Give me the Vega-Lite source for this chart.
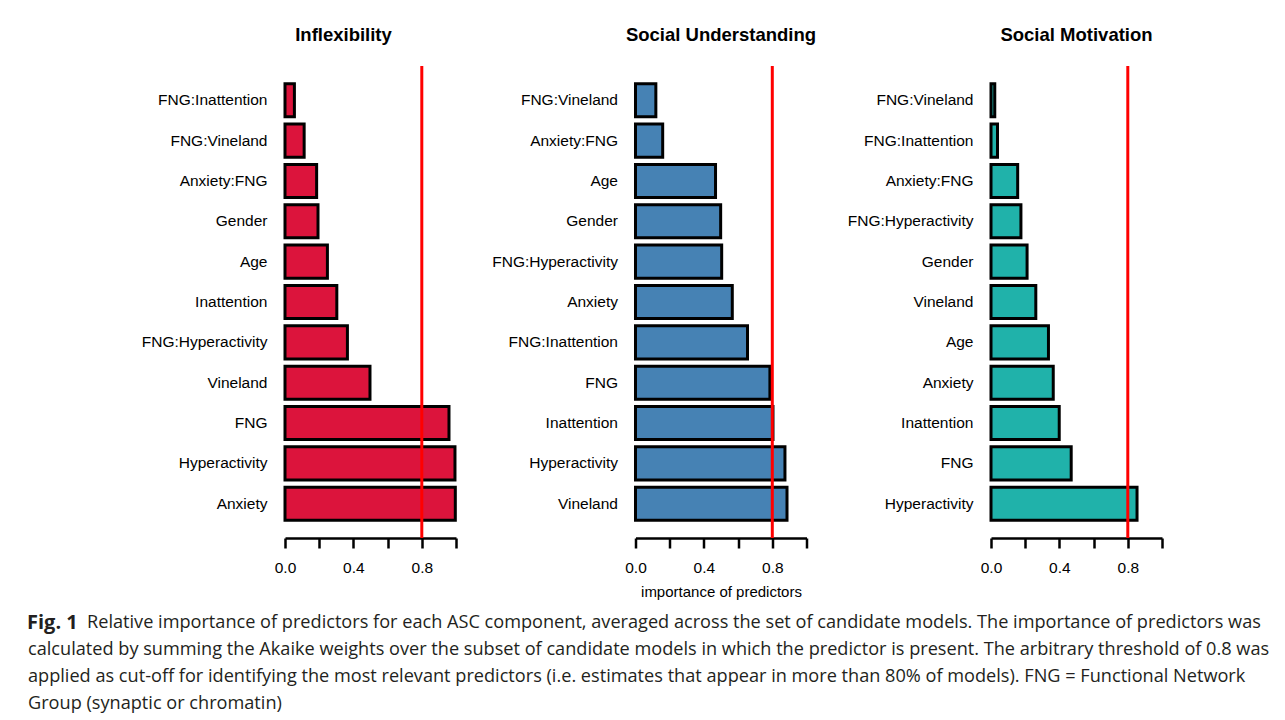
{
  "$schema": "https://vega.github.io/schema/vega-lite/v6.json",
  "background": "white",
  "padding": {"left": 20, "top": 26, "right": 5, "bottom": 5},
  "datasets": {
    "imp": [
      {"panel": "Inflexibility", "predictor": "FNG:Inattention", "value": 0.055},
      {"panel": "Inflexibility", "predictor": "FNG:Vineland", "value": 0.112},
      {"panel": "Inflexibility", "predictor": "Anxiety:FNG", "value": 0.185},
      {"panel": "Inflexibility", "predictor": "Gender", "value": 0.193},
      {"panel": "Inflexibility", "predictor": "Age", "value": 0.248},
      {"panel": "Inflexibility", "predictor": "Inattention", "value": 0.303},
      {"panel": "Inflexibility", "predictor": "FNG:Hyperactivity", "value": 0.365},
      {"panel": "Inflexibility", "predictor": "Vineland", "value": 0.497},
      {"panel": "Inflexibility", "predictor": "FNG", "value": 0.959},
      {"panel": "Inflexibility", "predictor": "Hyperactivity", "value": 0.994},
      {"panel": "Inflexibility", "predictor": "Anxiety", "value": 0.996},
      {"panel": "Social Understanding", "predictor": "FNG:Vineland", "value": 0.119},
      {"panel": "Social Understanding", "predictor": "Anxiety:FNG", "value": 0.159},
      {"panel": "Social Understanding", "predictor": "Age", "value": 0.468},
      {"panel": "Social Understanding", "predictor": "Gender", "value": 0.498},
      {"panel": "Social Understanding", "predictor": "FNG:Hyperactivity", "value": 0.504},
      {"panel": "Social Understanding", "predictor": "Anxiety", "value": 0.566},
      {"panel": "Social Understanding", "predictor": "FNG:Inattention", "value": 0.655},
      {"panel": "Social Understanding", "predictor": "FNG", "value": 0.786},
      {"panel": "Social Understanding", "predictor": "Inattention", "value": 0.804},
      {"panel": "Social Understanding", "predictor": "Hyperactivity", "value": 0.874},
      {"panel": "Social Understanding", "predictor": "Vineland", "value": 0.886},
      {"panel": "Social Motivation", "predictor": "FNG:Vineland", "value": 0.022},
      {"panel": "Social Motivation", "predictor": "FNG:Inattention", "value": 0.038},
      {"panel": "Social Motivation", "predictor": "Anxiety:FNG", "value": 0.156},
      {"panel": "Social Motivation", "predictor": "FNG:Hyperactivity", "value": 0.175},
      {"panel": "Social Motivation", "predictor": "Gender", "value": 0.211},
      {"panel": "Social Motivation", "predictor": "Vineland", "value": 0.262},
      {"panel": "Social Motivation", "predictor": "Age", "value": 0.336},
      {"panel": "Social Motivation", "predictor": "Anxiety", "value": 0.364},
      {"panel": "Social Motivation", "predictor": "Inattention", "value": 0.399},
      {"panel": "Social Motivation", "predictor": "FNG", "value": 0.469},
      {"panel": "Social Motivation", "predictor": "Hyperactivity", "value": 0.854}
    ],
    "threshold": [{"cutoff": 0.8}],
    "caption": [
      {"line": 1, "lead": "Fig. 1", "text": "Relative importance of predictors for each ASC component, averaged across the set of candidate models. The importance of predictors was"},
      {"line": 2, "lead": "", "text": "calculated by summing the Akaike weights over the subset of candidate models in which the predictor is present. The arbitrary threshold of 0.8 was"},
      {"line": 3, "lead": "", "text": "applied as cut-off for identifying the most relevant predictors (i.e. estimates that appear in more than 80% of models). FNG = Functional Network"},
      {"line": 4, "lead": "", "text": "Group (synaptic or chromatin)"}
    ]
  },
  "vconcat": [
    {
      "hconcat": [
        {
          "width": 171, "height": 472,
          "title": {"text": "Inflexibility", "dx": -27},
          "layer": [
            {
              "data": {"name": "imp"},
              "transform": [{"filter": "datum.panel == 'Inflexibility'"}],
              "mark": {"type": "bar", "fill": "#DC143C", "stroke": "black", "strokeWidth": 3},
              "encoding": {
                "y": {"field": "predictor", "type": "nominal", "sort": "x",
                      "scale": {"paddingInner": 0.18, "paddingOuter": 0.44},
                      "axis": {"title": null, "minExtent": 264.2, "maxExtent": 264.2}},
                "x": {"field": "value", "type": "quantitative",
                      "scale": {"domain": [0, 1], "nice": false, "zero": true},
                      "axis": {"title": null}}
              }
            },
            {
              "data": {"name": "threshold"},
              "mark": {"type": "rule", "color": "red", "strokeWidth": 3},
              "encoding": {"x": {"field": "cutoff", "type": "quantitative"}}
            }
          ]
        },
        {
          "width": 171, "height": 472,
          "title": {"text": "Social Understanding"},
          "layer": [
            {
              "data": {"name": "imp"},
              "transform": [{"filter": "datum.panel == 'Social Understanding'"}],
              "mark": {"type": "bar", "fill": "#4682B4", "stroke": "black", "strokeWidth": 3},
              "encoding": {
                "y": {"field": "predictor", "type": "nominal", "sort": "x",
                      "scale": {"paddingInner": 0.18, "paddingOuter": 0.44},
                      "axis": {"title": null, "minExtent": 147, "maxExtent": 147}},
                "x": {"field": "value", "type": "quantitative",
                      "scale": {"domain": [0, 1], "nice": false, "zero": true},
                      "axis": {"title": "importance of predictors"}}
              }
            },
            {
              "data": {"name": "threshold"},
              "mark": {"type": "rule", "color": "red", "strokeWidth": 3},
              "encoding": {"x": {"field": "cutoff", "type": "quantitative"}}
            }
          ]
        },
        {
          "width": 171, "height": 472,
          "title": {"text": "Social Motivation"},
          "layer": [
            {
              "data": {"name": "imp"},
              "transform": [{"filter": "datum.panel == 'Social Motivation'"}],
              "mark": {"type": "bar", "fill": "#20B2AA", "stroke": "black", "strokeWidth": 3},
              "encoding": {
                "y": {"field": "predictor", "type": "nominal", "sort": "x",
                      "scale": {"paddingInner": 0.18, "paddingOuter": 0.44},
                      "axis": {"title": null, "minExtent": 135.5, "maxExtent": 135.5}},
                "x": {"field": "value", "type": "quantitative",
                      "scale": {"domain": [0, 1], "nice": false, "zero": true},
                      "axis": {"title": null}}
              }
            },
            {
              "data": {"name": "threshold"},
              "mark": {"type": "rule", "color": "red", "strokeWidth": 3},
              "encoding": {"x": {"field": "cutoff", "type": "quantitative"}}
            }
          ]
        }
      ],
      "spacing": 30.5,
      "resolve": {"scale": {"y": "independent", "x": "independent"}}
    },
    {
      "width": 980, "height": 109,
      "data": {"name": "caption"},
      "encoding": {
        "y": {"field": "line", "type": "ordinal", "axis": null}
      },
      "layer": [
        {
          "transform": [{"filter": "datum.line == 1"}],
          "mark": {"type": "text", "align": "left", "baseline": "middle", "font": "Open Sans", "fontSize": 20, "fontWeight": "bold", "color": "#231f20", "dx": -258},
          "encoding": {"x": {"value": 0}, "text": {"field": "lead"}}
        },
        {
          "transform": [{"filter": "datum.line == 1"}],
          "mark": {"type": "text", "align": "left", "baseline": "middle", "font": "Open Sans", "fontSize": 18.15, "dx": -198, "color": "#231f20"},
          "encoding": {"x": {"value": 0}, "text": {"field": "text"}}
        },
        {
          "transform": [{"filter": "datum.line > 1"}],
          "mark": {"type": "text", "align": "left", "baseline": "middle", "font": "Open Sans", "fontSize": 18.15, "dx": -257, "color": "#231f20"},
          "encoding": {"x": {"value": 0}, "text": {"field": "text"}}
        }
      ]
    }
  ],
  "spacing": 9,
  "config": {
    "view": {"stroke": null},
    "font": "Liberation Sans",
    "title": {"font": "Liberation Sans", "fontSize": 18.5, "fontWeight": "bold", "color": "black", "anchor": "middle", "offset": 20},
    "axisY": {"ticks": false, "tickSize": 0, "domain": false, "labelPadding": 18, "labelFontSize": 15.5, "labelColor": "black", "labelFont": "Liberation Sans", "grid": false},
    "axisX": {"values": [0, 0.2, 0.4, 0.6, 0.8, 1], "format": ".1f",
              "labelExpr": "(datum.value == 0 || abs(datum.value - 0.4) < 0.001 || abs(datum.value - 0.8) < 0.001) ? datum.label : ''",
              "labelFlush": false, "labelOverlap": false, "labelFontSize": 15.5, "labelColor": "black", "labelFont": "Liberation Sans",
              "labelPadding": 12, "tickSize": 10, "tickWidth": 2.5, "tickColor": "black", "domainColor": "black", "domainWidth": 2.5,
              "grid": false, "titleFont": "Liberation Sans", "titleFontSize": 15, "titleFontWeight": "normal", "titleColor": "black", "titlePadding": 9}
  }
}
